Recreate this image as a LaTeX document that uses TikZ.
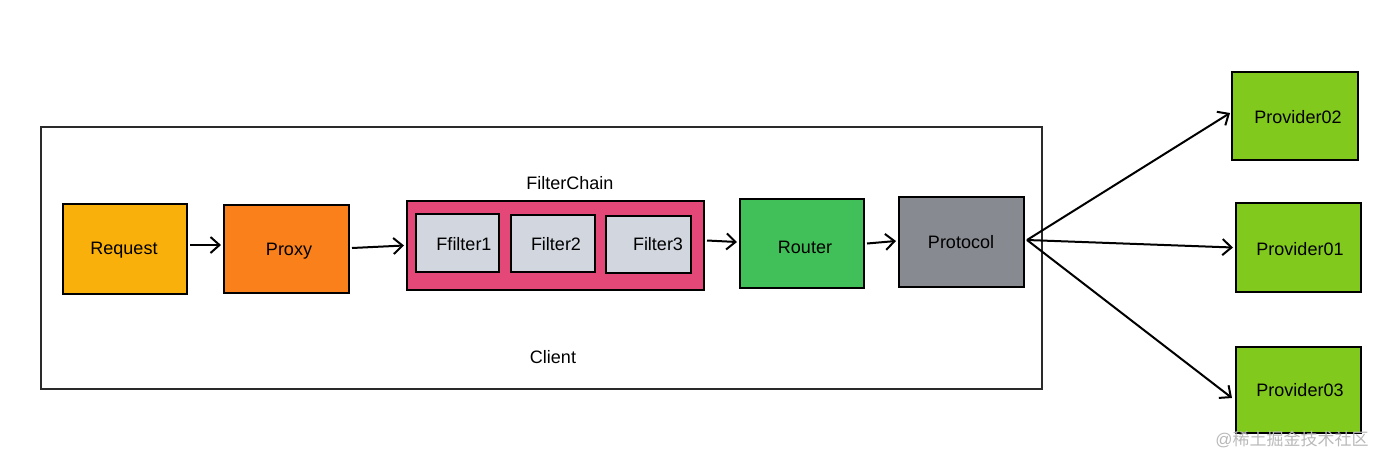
\documentclass[tikz,border=0pt]{standalone}
\usepackage{fontspec}
\setmainfont{Liberation Sans}
\newfontfamily\cjkfont{Noto Sans CJK SC}
\usetikzlibrary{arrows.meta}
\definecolor{creq}{HTML}{FAB00A}
\definecolor{cproxy}{HTML}{F9801A}
\definecolor{cchain}{HTML}{E44878}
\definecolor{cfilter}{HTML}{D2D6DE}
\definecolor{crouter}{HTML}{41BF58}
\definecolor{cproto}{HTML}{878A91}
\definecolor{cprov}{HTML}{82C91E}
\definecolor{cframe}{HTML}{2A2A2A}
\tikzset{
  box/.style={draw=black, line width=2pt, inner sep=0pt, font=\fontsize{18}{21}\selectfont},
  lbl/.style={font=\fontsize{18}{21}\selectfont, inner sep=0pt},
  conn/.style={line width=2pt, -{Straight Barb[length=9pt,width=16pt,line width=2pt]}},
}
\begin{document}
\begin{tikzpicture}[x=1pt,y=-1pt]
\useasboundingbox (0,0) rectangle (1387,464);
% client frame
\node[draw=cframe, line width=1.6pt, minimum width=1001pt, minimum height=262pt, inner sep=0pt] (client) at (541.5,258) {};
\node[lbl] (clientlbl) at (553,357) {Client};
% nodes
\node[box, fill=creq, minimum width=124pt, minimum height=90pt] (req) at (125,249) {};
\node[lbl] (reql) at (124,250) {Request};
\node[box, fill=cproxy, minimum width=125pt, minimum height=88pt] (proxy) at (286.5,249) {};
\node[lbl] (proxyl) at (289,251) {Proxy};
\node[box, fill=cchain, minimum width=297pt, minimum height=89pt] (chain) at (555.5,245.5) {};
\node[lbl] (chainlbl) at (570,183) {FilterChain};
\node[box, fill=cfilter, minimum width=83pt, minimum height=58pt] (f1) at (457.5,243) {};
\node[lbl] (f1l) at (464,244) {Ffilter1};
\node[box, fill=cfilter, minimum width=84pt, minimum height=57pt] (f2) at (553,243.5) {};
\node[lbl] (f2l) at (556,244) {Filter2};
\node[box, fill=cfilter, minimum width=85pt, minimum height=57pt] (f3) at (648.5,244.5) {};
\node[lbl] (f3l) at (658,244) {Filter3};
\node[box, fill=crouter, minimum width=124pt, minimum height=89pt] (router) at (802,243.5) {};
\node[lbl] (routerl) at (805,247) {Router};
\node[box, fill=cproto, minimum width=125pt, minimum height=90pt] (proto) at (961.5,242) {};
\node[lbl] (protol) at (961,242) {Protocol};
\node[box, fill=cprov, minimum width=126pt, minimum height=88pt] (p2) at (1295,116) {};
\node[lbl] (p2l) at (1298,117) {Provider02};
\node[box, fill=cprov, minimum width=125pt, minimum height=89pt] (p1) at (1298.5,247.5) {};
\node[lbl] (p1l) at (1300,249) {Provider01};
\node[box, fill=cprov, minimum width=125pt, minimum height=86pt] (p3) at (1298.5,390) {};
\node[lbl] (p3l) at (1300,390) {Provider03};
% connectors
\draw[conn] ([xshift=2pt,yshift=4pt]req.east) -- ([xshift=-2pt,yshift=4pt]proxy.west);
\draw[conn] ([xshift=2pt,yshift=1pt]proxy.east) -- ([xshift=-2pt]chain.west);
\draw[conn] ([xshift=2pt,yshift=5pt]chain.east) -- ([xshift=-2pt,yshift=1.5pt]router.west);
\draw[conn] ([xshift=2pt]router.east) -- ([xshift=-2pt,yshift=1pt]proto.west);
\coordinate (po) at ([xshift=2pt,yshift=2pt]proto.east);
\draw[conn] (po) -- ([xshift=-1pt,yshift=3pt]p2.west);
\draw[conn] (po) -- ([xshift=-2pt]p1.west);
\draw[conn] (po) -- ([xshift=-3pt,yshift=-8pt]p3.west);
% watermark
\node[inner sep=0pt, text=gray!55, font=\fontsize{17}{19}\selectfont] (wm) at (1292,439) {@{\cjkfont 稀土掘金技术社区}};
\end{tikzpicture}
\end{document}
